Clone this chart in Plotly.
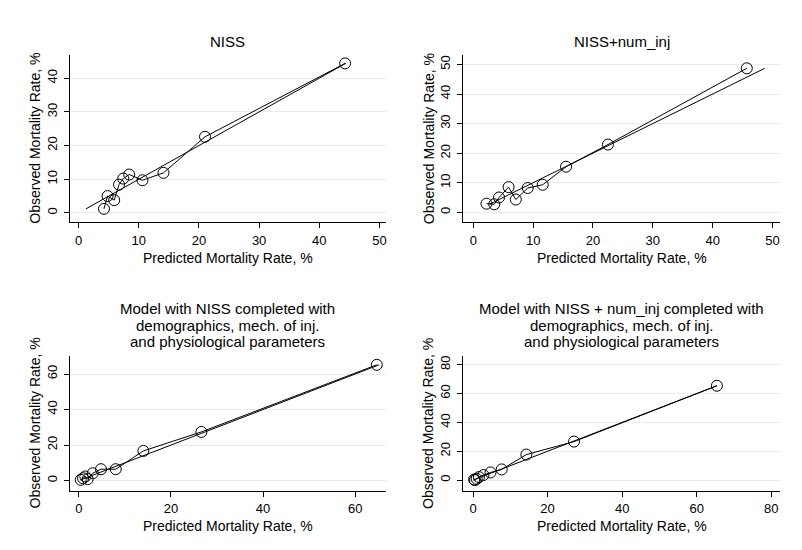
import plotly.graph_objects as go

# ---------------- data ----------------
titles = [
    ["NISS"],
    ["NISS+num_inj"],
    ["Model with NISS completed with", "demographics, mech. of inj.", "and physiological parameters"],
    ["Model with NISS + num_inj completed with", "demographics, mech. of inj.", "and physiological parameters"],
]

pred_1 = [4.2, 4.8, 5.9, 6.7, 7.4, 8.4, 10.6, 14.1, 21.0, 44.3]
obs_1 = [1.2, 5.0, 3.8, 8.4, 10.2, 11.4, 9.7, 11.9, 22.6, 44.4]
diag_1 = [1.2, 44.4]

pred_2 = [2.2, 3.5, 4.3, 5.9, 7.1, 9.1, 11.6, 15.5, 22.5, 45.7]
obs_2 = [2.9, 2.7, 5.0, 8.5, 4.3, 8.2, 9.3, 15.4, 22.9, 48.7]
diag_2 = [2.7, 48.7]

pred_3 = [0.4, 0.9, 1.4, 1.9, 3.0, 4.8, 8.0, 14.0, 26.6, 64.7]
obs_3 = [0.4, 1.3, 2.3, 0.8, 4.1, 6.4, 6.4, 16.7, 27.4, 65.2]
diag_3 = [0.4, 65.2]

pred_4 = [0.3, 0.5, 1.0, 1.6, 2.8, 4.7, 7.7, 14.3, 27.1, 65.4]
obs_4 = [0.4, 0.0, 0.9, 2.1, 3.5, 5.3, 7.4, 17.7, 26.7, 65.4]
diag_4 = [0.0, 65.4]

x_ticks = [[0, 10, 20, 30, 40, 50], [0, 10, 20, 30, 40, 50], [0, 20, 40, 60], [0, 20, 40, 60, 80]]
y_ticks = [[0, 10, 20, 30, 40], [0, 10, 20, 30, 40, 50], [0, 20, 40, 60], [0, 20, 40, 60, 80]]

x_title = "Predicted Mortality Rate, %"
y_title = "Observed Mortality Rate, %"

preds = [pred_1, pred_2, pred_3, pred_4]
obss = [obs_1, obs_2, obs_3, obs_4]
diags = [diag_1, diag_2, diag_3, diag_4]

# ---------------- layout geometry ----------------
W, H = 802, 550
FONT = "Liberation Sans, Arial, sans-serif"
x_dom = [[61.7 / W, 378.0 / W], [455.3 / W, 772.3 / W]]
y_dom = [[1 - 214.0 / H, 1 - 47.3 / H], [1 - 482.5 / H, 1 - 348.3 / H]]
x_rng = [[-1.5, 51.1], [-1.67, 51.3], [-2.0, 66.7], [-2.6, 82.4]]
y_rng = [[-2.7, 46.8], [-3.3, 53.1], [-5.6, 70.0], [-7.2, 85.8]]

fig = go.Figure()
layout = dict(
    width=W, height=H, margin=dict(l=0, r=0, t=0, b=0),
    paper_bgcolor="white", plot_bgcolor="white", showlegend=False,
    font=dict(family=FONT, color="black", size=13),
)
annotations = []

for i in range(4):
    row, col = divmod(i, 2)
    sfx = "" if i == 0 else str(i + 1)
    xa, ya = "x" + sfx, "y" + sfx
    # diagonal reference line
    fig.add_trace(go.Scatter(x=diags[i], y=diags[i], xaxis=xa, yaxis=ya, mode="lines",
                             line=dict(color="black", width=1), hoverinfo="skip"))
    # calibration curve
    fig.add_trace(go.Scatter(x=preds[i], y=obss[i], xaxis=xa, yaxis=ya, mode="lines+markers",
                             line=dict(color="black", width=1),
                             marker=dict(symbol="circle-open", size=11, color="black",
                                         line=dict(width=1, color="black"))))
    layout["xaxis" + sfx] = dict(
        domain=x_dom[col], anchor=ya, range=x_rng[i], tickvals=x_ticks[i],
        showline=True, linecolor="black", linewidth=1, ticks="outside", ticklen=5,
        tickcolor="black", showgrid=False, zeroline=False, tickfont=dict(size=13),
        ticklabelstandoff=1,
    )
    layout["yaxis" + sfx] = dict(
        domain=y_dom[row], anchor=xa, range=y_rng[i], tickvals=y_ticks[i],
        showline=True, linecolor="black", linewidth=1, ticks="outside", ticklen=5,
        tickcolor="black", showgrid=True, gridcolor="#e6eeef", gridwidth=1,
        zeroline=False, tickangle=-90, tickfont=dict(size=13),
        ticklabelstandoff=2,
    )
    cx = (x_dom[col][0] + x_dom[col][1]) / 2
    cy = (y_dom[row][0] + y_dom[row][1]) / 2
    # panel titles
    if row == 0:
        tys = [33.0]
    else:
        tys = [300.0, 317.0, 333.0]
    for line, ty in zip(titles[i], tys):
        annotations.append(dict(text=line, xref="paper", yref="paper", x=cx, y=1 - ty / H,
                                xanchor="center", yanchor="middle", showarrow=False,
                                font=dict(size=15, family=FONT, color="black")))
    # axis titles
    xty = 249.5 if row == 0 else 517.5
    annotations.append(dict(text=x_title, xref="paper", yref="paper", x=cx, y=1 - xty / H,
                            xanchor="center", yanchor="middle", showarrow=False,
                            font=dict(size=14, family=FONT, color="black")))
    ytx = 27.0 if col == 0 else 420.5
    annotations.append(dict(text=y_title, xref="paper", yref="paper", x=ytx / W, y=cy,
                            xanchor="center", yanchor="middle", showarrow=False, textangle=-90,
                            font=dict(size=14, family=FONT, color="black")))

layout["annotations"] = annotations
fig.update_layout(**layout)
fig.write_html("out.html")
